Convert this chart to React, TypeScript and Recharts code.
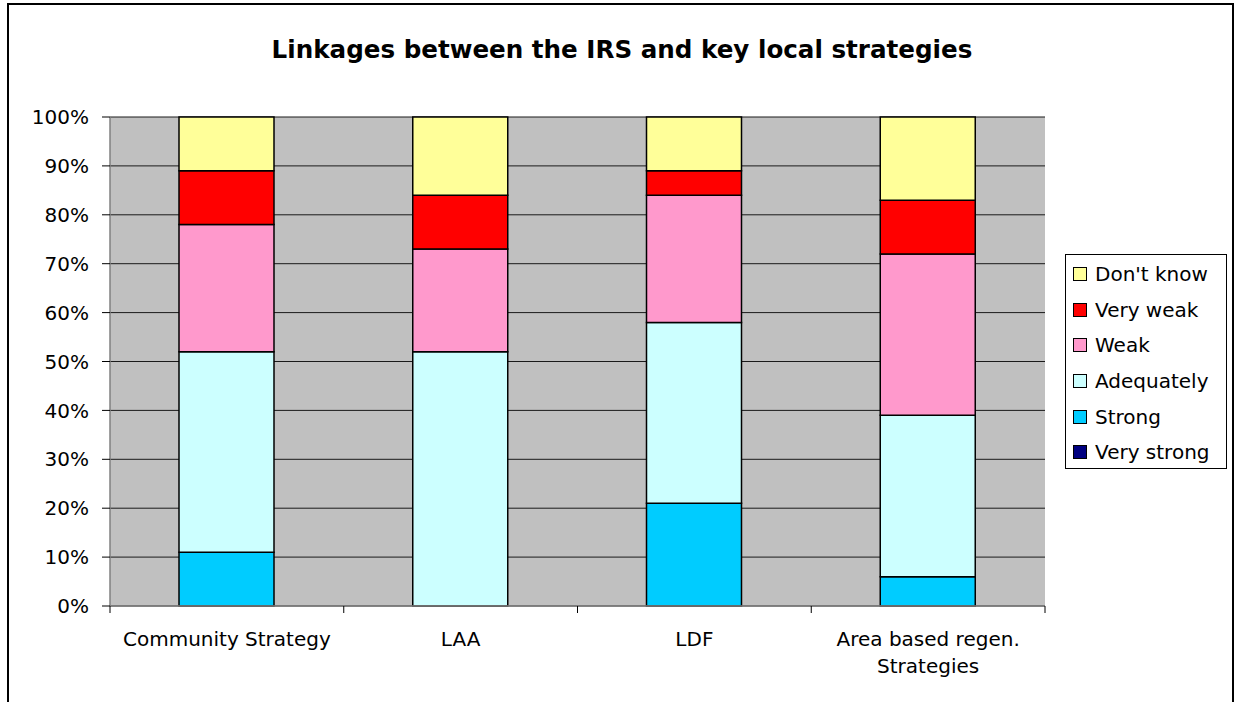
import React from 'react';
import { BarChart, Bar, XAxis, YAxis, CartesianGrid, Legend } from 'recharts';

// ---- Data ----
const categories = ['Community Strategy', 'LAA', 'LDF', 'Area based regen. Strategies'];
const veryStrong = [0, 0, 0, 0];
const strong = [11, 0, 21, 6];
const adequately = [41, 52, 37, 33];
const weak = [26, 21, 26, 33];
const veryWeak = [11, 11, 5, 11];
const dontKnow = [11, 16, 11, 17];
const yTicks = [0, 10, 20, 30, 40, 50, 60, 70, 80, 90, 100];

const seriesKeys = ['veryStrong', 'strong', 'adequately', 'weak', 'veryWeak', 'dontKnow'];
const seriesNames = ['Very strong', 'Strong', 'Adequately', 'Weak', 'Very weak', "Don't know"];
const seriesColors = ['#000080', '#00CCFF', '#CCFFFF', '#FF99CC', '#FF0000', '#FFFF99'];
const seriesValues = [veryStrong, strong, adequately, weak, veryWeak, dontKnow];

const title = 'Linkages between the IRS and key local strategies';

const data = categories.map((c, i) => {
  const row: Record<string, any> = { name: c };
  seriesKeys.forEach((k, s) => {
    row[k] = seriesValues[s][i];
  });
  return row;
});

// ---- Layout ----
const W = 1235;
const H = 702;
const PLOT_LEFT = 110;
const PLOT_RIGHT = 1045;
const PLOT_TOP = 117;
const PLOT_BOTTOM = 606;
const FONT = '"DejaVu Sans", Arial, sans-serif';
const MAX_LINE_CHARS = 20;

const wrapLabel = (s: string): string[] => {
  if (s.length <= MAX_LINE_CHARS) return [s];
  const words = s.split(' ');
  const lines: string[] = [];
  let cur = '';
  words.forEach((w) => {
    const next = cur ? cur + ' ' + w : w;
    if (next.length > MAX_LINE_CHARS && cur) {
      lines.push(cur);
      cur = w;
    } else {
      cur = next;
    }
  });
  if (cur) lines.push(cur);
  return lines;
};

const XTick = (props: any) => {
  const { x, y, payload, index } = props;
  const band = (PLOT_RIGHT - PLOT_LEFT) / categories.length;
  const lines = wrapLabel(String(payload.value));
  return (
    <g>
      <line x1={x - band / 2} x2={x - band / 2} y1={y} y2={y + 7} stroke="#000" strokeWidth={1} />
      {index === categories.length - 1 && (
        <line x1={x + band / 2} x2={x + band / 2} y1={y} y2={y + 7} stroke="#000" strokeWidth={1} />
      )}
      <text
        x={x}
        y={y + 40}
        textAnchor="middle"
        fill="#000"
        style={{ fontFamily: FONT, fontSize: 20 }}
      >
        {lines.map((l, i) => (
          <tspan key={i} x={x} dy={i === 0 ? 0 : 27}>
            {l}
          </tspan>
        ))}
      </text>
    </g>
  );
};

const renderLegend = (props: any) => {
  const payload = props.payload || [];
  const items = [...seriesNames]
    .reverse()
    .map((n) => payload.find((p: any) => p.value === n))
    .filter(Boolean);
  return (
    <div
      style={{
        border: '1px solid #000',
        background: '#fff',
        boxSizing: 'border-box',
        width: 162,
        height: 215,
        paddingTop: 1,
      }}
    >
      {items.map((it: any) => (
        <div
          key={it.value}
          style={{ height: 35.7, display: 'flex', alignItems: 'center', paddingLeft: 7 }}
        >
          <span
            style={{
              display: 'inline-block',
              width: 12,
              height: 12,
              background: it.color,
              border: '1px solid #000',
              marginRight: 8,
            }}
          />
          <span style={{ fontFamily: FONT, fontSize: 20, color: '#000', lineHeight: '20px' }}>
            {it.value}
          </span>
        </div>
      ))}
    </div>
  );
};

export default function App() {
  return (
    <div
      style={{
        position: 'absolute',
        left: 0,
        top: 0,
        width: W,
        height: H,
        overflow: 'hidden',
        background: '#fff',
      }}
    >
      <div
        style={{
          position: 'absolute',
          left: 7,
          top: 3,
          width: 1227,
          height: 760,
          border: '2px solid #000',
          boxSizing: 'border-box',
        }}
      />
      <div
        style={{
          position: 'absolute',
          left: 8,
          top: 37,
          width: 1228,
          textAlign: 'center',
          fontFamily: FONT,
          fontWeight: 'bold',
          fontSize: 24.6,
          lineHeight: '25px',
          color: '#000',
        }}
      >
        {title}
      </div>
      <div style={{ position: 'absolute', left: 0, top: 0 }}>
        <BarChart
          width={W}
          height={H}
          data={data}
          margin={{ top: PLOT_TOP, right: W - PLOT_RIGHT, left: 10, bottom: 0 }}
          barSize={95}
        >
          <CartesianGrid
            vertical={false}
            fill="#C0C0C0"
            fillOpacity={1}
            stroke="#1a1a1a"
            strokeWidth={1}
          />
          <XAxis
            dataKey="name"
            height={H - PLOT_BOTTOM}
            interval={0}
            tickLine={false}
            tickSize={0}
            tickMargin={0}
            axisLine={{ stroke: '#808080', strokeWidth: 1.5 }}
            tick={<XTick />}
          />
          <XAxis xAxisId="top" orientation="top" dataKey="name" height={0} tick={false} tickLine={false} axisLine={{ stroke: '#808080', strokeWidth: 1.5 }} />
          <YAxis
            width={PLOT_LEFT - 10}
            domain={[0, 100]}
            ticks={yTicks}
            interval={0}
            tickFormatter={(v: number) => `${v}%`}
            tickSize={8}
            tickMargin={13}
            tickLine={{ stroke: '#000' }}
            axisLine={{ stroke: '#808080', strokeWidth: 1.5 }}
            tick={{ fill: '#000', fontFamily: FONT, fontSize: 20 }}
          />
          <YAxis yAxisId="right" orientation="right" width={0} domain={[0, 100]} tick={false} tickLine={false} axisLine={{ stroke: '#808080', strokeWidth: 1.5 }} />
          {seriesKeys.map((k, s) => (
            <Bar
              key={k}
              dataKey={k}
              name={seriesNames[s]}
              stackId="a"
              fill={seriesColors[s]}
              stroke="#000"
              strokeWidth={1.5}
              isAnimationActive={false}
            />
          ))}
          <Legend
            layout="vertical"
            align="center"
            verticalAlign="middle"
            content={renderLegend}
            wrapperStyle={{ position: 'absolute', left: 1065, top: 254, width: 162, height: 215 }}
          />
        </BarChart>
      </div>
    </div>
  );
}
